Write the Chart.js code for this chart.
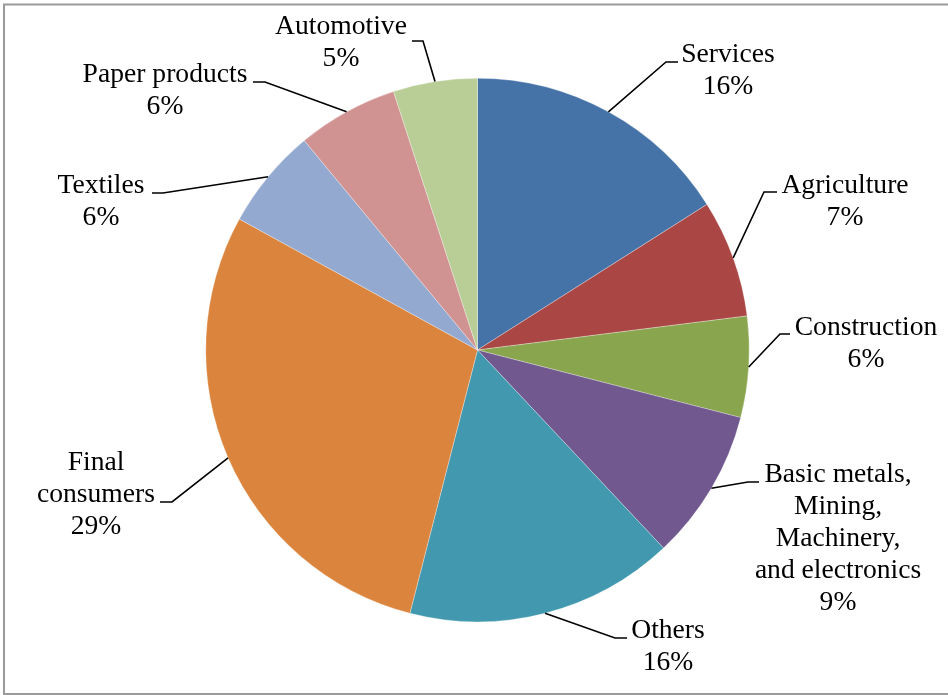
<!DOCTYPE html>
<html>
<head>
<meta charset="utf-8">
<script src="https://cdn.jsdelivr.net/npm/chart.js@4"></script>
<style>
html,body{margin:0;padding:0;background:#fff;}
canvas{display:block;}
</style>
</head>
<body>
<canvas id="c" width="948" height="695"></canvas>
<script>
// ---- data ----
const categories = ["Services","Agriculture","Construction","Basic metals, Mining, Machinery, and electronics","Others","Final consumers","Textiles","Paper products","Automotive"];
const labelLines = [["Services"],["Agriculture"],["Construction"],["Basic metals,","Mining,","Machinery,","and electronics"],["Others"],["Final","consumers"],["Textiles"],["Paper products"],["Automotive"]];
const shares = [16, 7, 6, 9, 16, 29, 6, 6, 5];
const colors = ["#4572A7","#AA4643","#89A54E","#71588F","#4198AF","#DB843D","#93A9CF","#D19392","#B9CD96"];

// ---- label layout (text centre x, first baseline y, elbow, end of horizontal) ----
const labelLayout = [
  {tx:728, ty:62,  ex:666, ey:62,  hx:678},
  {tx:845, ty:193, ex:764, ey:192, hx:777},
  {tx:866, ty:335, ex:780, ey:334, hx:790},
  {tx:838, ty:482, ex:748, ey:482, hx:759},
  {tx:668, ty:638, ex:615, ey:638, hx:627},
  {tx:96,  ty:470, ex:172, ey:502, hx:160},
  {tx:101, ty:193, ex:163, ey:193, hx:152},
  {tx:165, ty:82,  ex:265, ey:82,  hx:253},
  {tx:341, ty:34,  ex:423, ey:41,  hx:412}
];
const FONT = '27.6px "Liberation Serif", "Times New Roman", serif';
const LINE_H = 32;

const framePlugin = {
  id:'frame',
  beforeDraw(chart){
    const ctx = chart.ctx;
    ctx.save();
    ctx.fillStyle = '#fff';
    ctx.fillRect(0,0,chart.width,chart.height);
    ctx.strokeStyle = '#9a9a9a';
    ctx.lineWidth = 2;
    ctx.strokeRect(4,4.5,chart.width+10,chart.height-5.5);
    ctx.restore();
  }
};

const labelPlugin = {
  id:'outLabels',
  afterDatasetsDraw(chart){
    const ctx = chart.ctx;
    const meta = chart.getDatasetMeta(0);
    const data = chart.data.datasets[0].data;
    const total = data.reduce((a,b)=>a+b,0);
    ctx.save();
    meta.data.forEach((arc,i)=>{
      const p = arc.getProps(['x','y','startAngle','endAngle','outerRadius'],true);
      const mid = (p.startAngle+p.endAngle)/2;
      const sx = p.x + Math.cos(mid)*p.outerRadius;
      const sy = p.y + Math.sin(mid)*p.outerRadius;
      const L = labelLayout[i];
      ctx.strokeStyle = '#000';
      ctx.lineWidth = 1.6;
      ctx.beginPath();
      ctx.moveTo(sx,sy);
      ctx.lineTo(L.ex,L.ey);
      ctx.lineTo(L.hx,L.ey);
      ctx.stroke();
      const lines = labelLines[i].concat([Math.round(data[i]/total*100)+'%']);
      ctx.fillStyle = '#000';
      ctx.font = FONT;
      ctx.textAlign = 'center';
      ctx.textBaseline = 'alphabetic';
      lines.forEach((t,k)=>ctx.fillText(t,L.tx,L.ty+k*LINE_H));
    });
    ctx.restore();
  }
};

new Chart(document.getElementById('c'),{
  type:'pie',
  data:{
    labels:categories,
    datasets:[{data:shares, backgroundColor:colors, borderWidth:0.5, borderColor:'rgba(255,255,255,0.6)'}]
  },
  options:{
    responsive:false,
    animation:false,
    rotation:0,
    layout:{padding:{top:78,bottom:73,left:200,right:193}},
    plugins:{legend:{display:false},tooltip:{enabled:false}}
  },
  plugins:[framePlugin,labelPlugin]
});
</script>
</body>
</html>
